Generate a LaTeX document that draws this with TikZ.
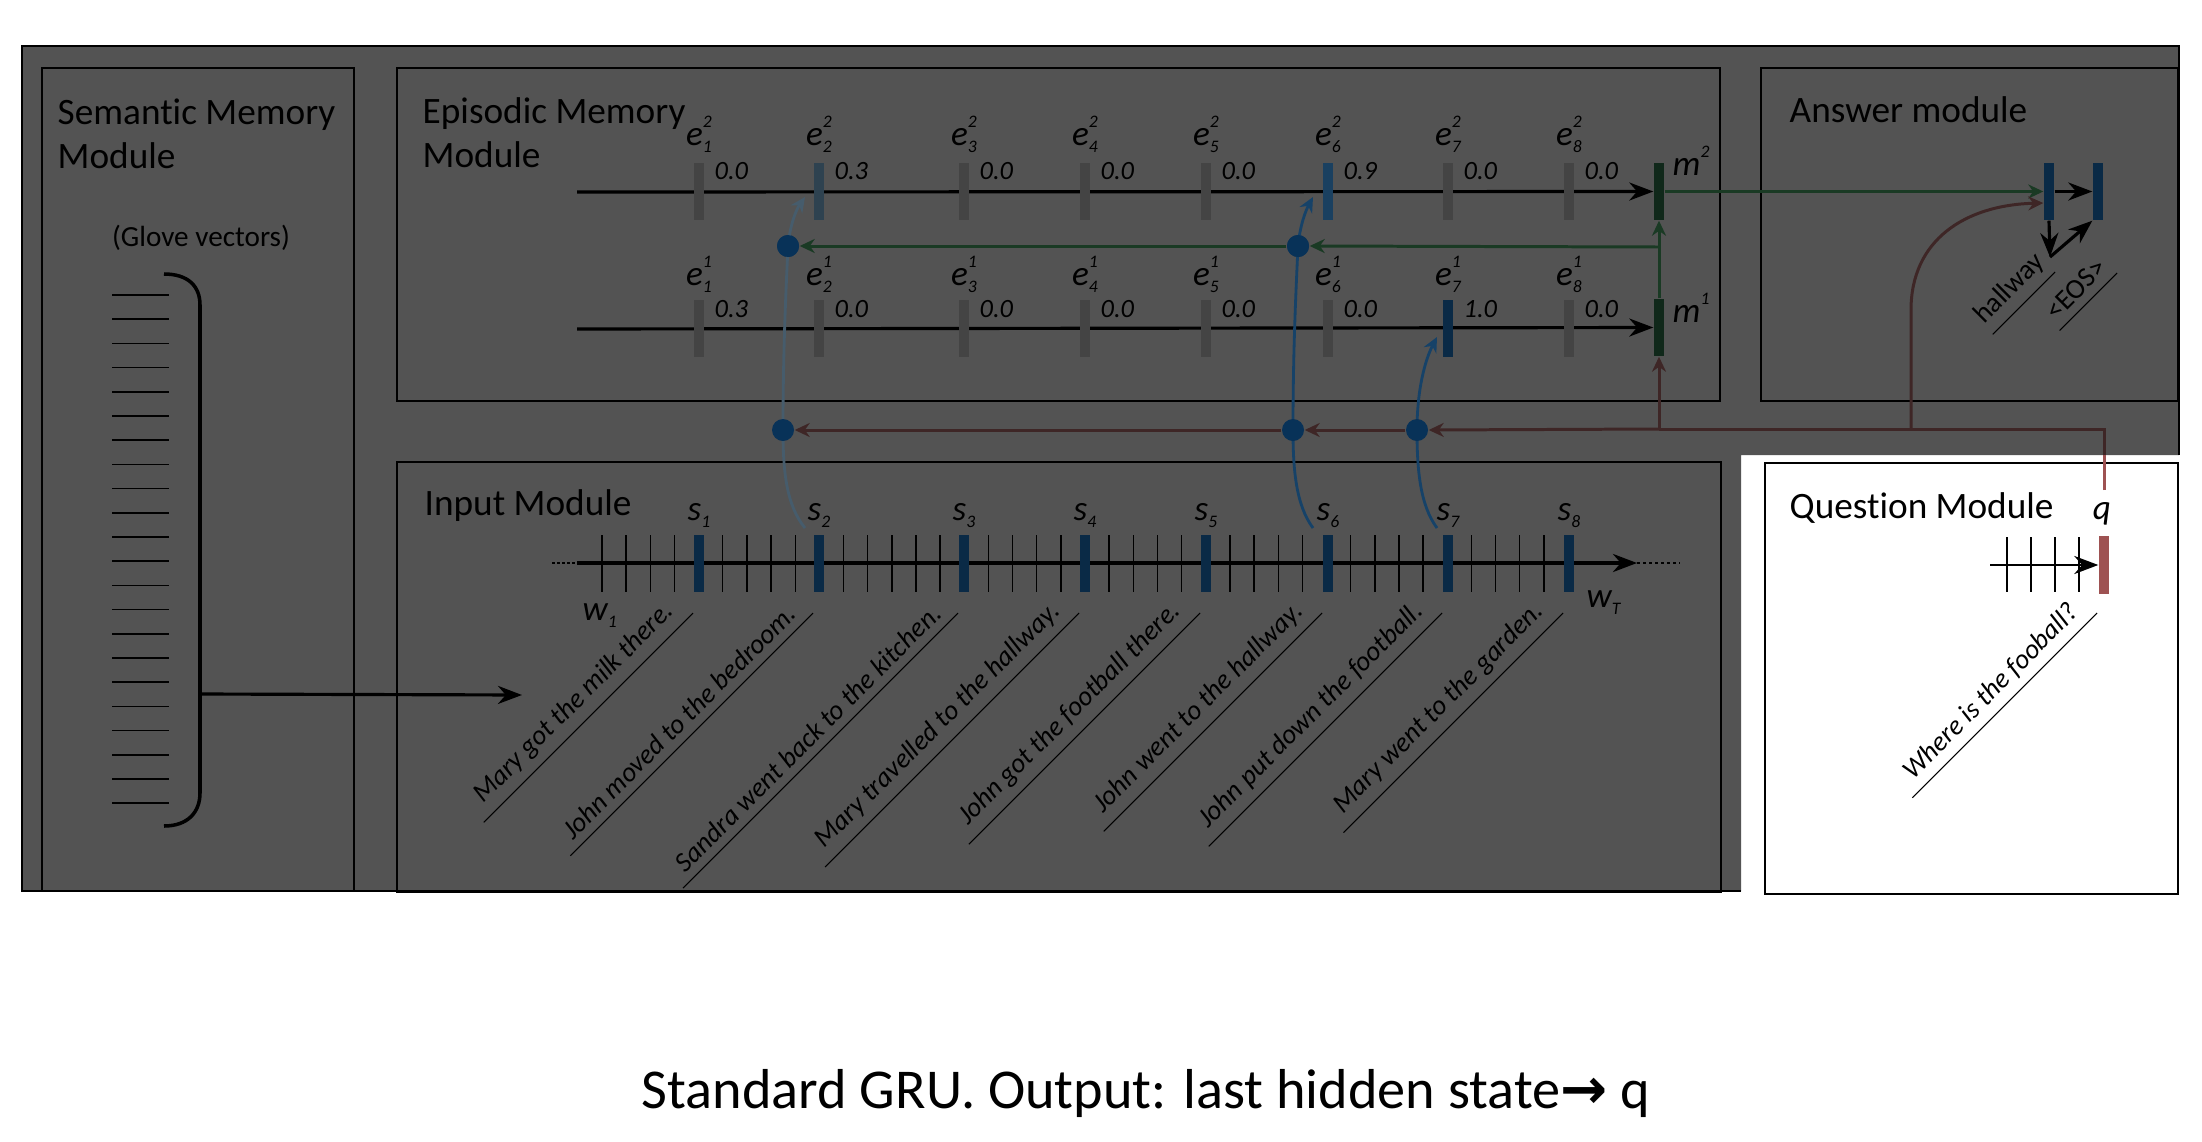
\documentclass[tikz,border=0pt]{standalone}
\usepackage{fontspec}
\setmainfont{Carlito}[Ligatures=NoCommon]
\newfontfamily\arrowfont{DejaVu Sans}
\usetikzlibrary{arrows.meta}
\definecolor{panel}{RGB}{83,83,83}
\definecolor{ebarg}{RGB}{68,68,68}
\definecolor{ebarbg}{RGB}{46,66,80}
\definecolor{ebarb}{RGB}{26,64,96}
\definecolor{sbar}{RGB}{10,42,70}
\definecolor{mbar}{RGB}{16,40,26}
\definecolor{grnline}{RGB}{26,58,36}
\definecolor{redline}{RGB}{62,38,38}
\definecolor{qbar}{RGB}{158,82,82}
\definecolor{curveb}{RGB}{22,66,104}
\definecolor{curveg}{RGB}{70,92,108}
\definecolor{dotc}{RGB}{8,50,88}
\newcommand{\scripts}[2]{\rlap{\raisebox{1.05ex}{\tiny\itshape #1}}\raisebox{-0.45ex}{\tiny\itshape #2}}
\newcommand{\membar}[3]{\node at (#1) (#2) [bar, fill=#3] {};}
\newcommand{\memdot}[2]{\node at (#1) (#2) [dot] {};}
\newcommand{\arcflow}[6]{\draw [#1, line width=0.8pt, arr] (#2) .. controls #3 .. (#4.center) .. controls #5 .. (#6);}

\begin{document}
\begin{tikzpicture}[x=0.01cm, y=-0.01cm,
  bar/.style={rectangle, inner sep=0pt, minimum width=0.1cm, minimum height=0.57cm},
  dot/.style={circle, fill=dotc, inner sep=0pt, minimum size=0.22cm},
  box/.style={draw=black, line width=0.6pt},
  lbl/.style={inner sep=0pt, font=\fontsize{10}{12}\selectfont\itshape},
  val/.style={inner sep=0pt, anchor=base west, font=\fontsize{7.5}{8}\selectfont\itshape},
  title/.style={inner sep=0pt, anchor=base west, font=\fontsize{10.6}{12.6}\selectfont},
  sent/.style={inner xsep=0.12cm, inner ysep=2.2pt, rotate=45, anchor=south east, font=\fontsize{7.8}{9}\selectfont\itshape},
  ul/.style={line width=0.3pt},
  tick/.style={line width=0.4pt},
  arr/.style={-{Stealth[length=0.15cm, width=0.14cm]}},
  bigarr/.style={-{Stealth[length=0.24cm, width=0.18cm]}},
  grn/.style={draw=grnline, line width=0.85pt},
  rd/.style={draw=redline, line width=0.85pt}]

\useasboundingbox (0,0) rectangle (2202,1142);

\fill [panel] (22,46) -- (2179,46) -- (2179,455) -- (1741,455) -- (1741,891) -- (22,891) -- cycle;
\draw [line width=0.6pt] (1741,891) -- (22,891) -- (22,46) -- (2179,46) -- (2179,455);

\draw [box] (42,68) rectangle (354,891);
\draw [box] (397,68) rectangle (1720,401);
\draw [box] (1761,68) rectangle (2178,401);
\draw [box] (397,462) rectangle (1721,892);
\draw [box, fill=white] (1765,463) rectangle (2178,894);

\node [title, align=left, anchor=north west] (semtitle) at (57,98) {Semantic Memory\\Module};
\node [title, align=left, anchor=north west] (epititle) at (422,97) {Episodic Memory\\Module};
\node [title] (anstitle) at (1789,122) {Answer module};
\node [title] (inptitle) at (424,515) {Input Module};
\node [title] (questitle) at (1789,518) {Question Module};
\node [inner sep=0pt, font=\fontsize{8.3}{10}\selectfont] (glove) at (201,238) {(Glove vectors)};

\foreach \i in {0,...,21}
  \draw [line width=0.5pt] (112,295+24.2*\i) -- (169,295+24.2*\i);
\draw [line width=1pt] (164,274) .. controls (188,274) and (200,286) .. (200,305) -- (200,793) .. controls (200,812) and (188,826) .. (164,826);
\coordinate (gloveout) at (200,694);
\coordinate (gloveend) at (522,695);
\draw [line width=0.9pt, bigarr] (gloveout) -- (gloveend);

\coordinate (wstart) at (577,563);
\coordinate (wend) at (1637,563);
\draw [line width=0.4pt, dash pattern=on 0.025cm off 0.025cm] (552,563) -- (wstart);
\draw [line width=1pt, bigarr] (wstart) -- (wend);
\draw [line width=0.5pt, dash pattern=on 0.03cm off 0.03cm] (wend) -- (1680,563);
\foreach \k in {0,...,40}
  \draw [tick] (602+24.15*\k,535) -- (602+24.15*\k,592);
\foreach \x [count=\i] in {699,819,964,1085,1206,1328,1448,1569} {
  \membar{\x,563.5}{s\i}{sbar}
  \node [lbl, anchor=base] (slbl\i) at (\x,520) {s\scripts{}{\i}};
}
\node [lbl, anchor=base west] (wfirst) at (582,620) {w\scripts{}{1}};
\node [lbl, anchor=base west] (wlast) at (1586,607) {w\scripts{}{T}};

\foreach \x/\t [count=\i] in {699/Mary got the milk there., 819/John moved to the bedroom., 964/Sandra went back to the kitchen., 1085/Mary travelled to the hallway., 1206/John got the football there., 1328/John went to the hallway., 1448/John put down the football., 1569/Mary went to the garden.} {
  \node [sent] (sen\i) at (\x-6,613) {\t};
  \draw [ul] (sen\i.south west) -- (sen\i.south east);
}

\membar{1659,191.5}{m2}{mbar}
\membar{1659,327.5}{m1}{mbar}
\node [lbl, anchor=base west] (m2lbl) at (1672,175) {m\scripts{2}{}};
\node [lbl, anchor=base west] (m1lbl) at (1672,322) {m\scripts{1}{}};
\draw [line width=0.9pt, bigarr] (577,192) -- (m2.west);
\draw [line width=0.9pt, bigarr] (577,329) -- (m1.west);

\foreach \x/\c/\v [count=\i] in {699/ebarg/0.0, 819/ebarbg/0.3, 964/ebarg/0.0, 1085/ebarg/0.0, 1206/ebarg/0.0, 1328/ebarb/0.9, 1448/ebarg/0.0, 1569/ebarg/0.0} {
  \membar{\x,191.5}{etwo\i}{\c}
  \node [lbl, anchor=base] (etwolbl\i) at (\x,145) {e\scripts{2}{\i}};
  \node [val] (etwoval\i) at (\x+15,179) {\v};
}
\foreach \x/\c/\v [count=\i] in {699/ebarg/0.3, 819/ebarg/0.0, 964/ebarg/0.0, 1085/ebarg/0.0, 1206/ebarg/0.0, 1328/ebarg/0.0, 1448/sbar/1.0, 1569/ebarg/0.0} {
  \membar{\x,328.5}{eone\i}{\c}
  \node [lbl, anchor=base] (eonelbl\i) at (\x,285) {e\scripts{1}{\i}};
  \node [val] (eoneval\i) at (\x+15,317) {\v};
}

\coordinate (ctwoin) at (805,528);
\coordinate (ctwoout) at (805,197);
\coordinate (csixin) at (1313,528);
\coordinate (csixout) at (1313,197);
\coordinate (csevenin) at (1437,528);
\coordinate (csevenout) at (1437,337);
\memdot{788,246}{dtwo}
\memdot{1298,246}{dsix}
\draw [curveg, line width=0.8pt] (ctwoin) .. controls (786,505) and (783,470) .. (783,430);
\arcflow{curveg}{783,430}{(783,350) and (786,290)}{dtwo}{(790,225) and (796,210)}{ctwoout}
\draw [curveb, line width=0.8pt] (csixin) .. controls (1296,505) and (1293,470) .. (1293,430);
\arcflow{curveb}{1293,430}{(1293,350) and (1296,290)}{dsix}{(1300,225) and (1306,210)}{csixout}
\draw [curveb, line width=0.8pt, arr] (csevenin) .. controls (1420,505) and (1417,470) .. (1417,430) .. controls (1417,390) and (1425,360) .. (csevenout);

\memdot{788,246}{dtwo}
\memdot{1298,246}{dsix}
\memdot{783,430}{dtwob}
\memdot{1293,430}{dsixb}
\memdot{1417,430}{dsevenb}

\coordinate (gjoin) at (1659,247);
\draw [grn, arr] (m1.north) -- (m2.south);
\draw [grn, arr] (gjoin) -- (dsix.east);
\draw [grn, arr] (dsix.west) -- (dtwo.east);

\membar{2049,191.5}{ans1}{sbar}
\membar{2098,191.5}{ans2}{sbar}
\draw [grn, arr] (m2.east) -- (ans1.west);
\draw [line width=0.9pt, bigarr] (ans1.east) -- (ans2.west);
\coordinate (hwpt) at (2050,257);
\draw [line width=0.9pt, bigarr] (ans1.south) -- (hwpt);
\draw [line width=0.9pt, bigarr] (hwpt) -- (ans2.south west);
\node [sent, font=\fontsize{8}{9}\selectfont, inner xsep=0pt] (hwlbl) at (2055,272) {hallway};
\draw [ul] (hwlbl.south west) -- (hwlbl.south east);
\node [sent, font=\fontsize{8}{9}\selectfont, inner xsep=1pt] (eoslbl) at (2117,273) {<EOS>};
\draw [ul] (eoslbl.south west) -- (eoslbl.south east);

\membar{2104,565}{qb}{qbar}
\foreach \x in {2007,2031,2055,2079}
  \draw [tick] (\x,537) -- (\x,592);
\coordinate (qstart) at (1990,565);
\draw [line width=0.8pt, bigarr] (qstart) -- (qb.west);
\node [lbl, anchor=base] (qlbl) at (2102,519) {q};
\node [sent] (qsen) at (2097,613) {Where is the fooball?};
\draw [ul] (qsen.south west) -- (qsen.south east);

\coordinate (qtop) at (2104,490);
\coordinate (qedge) at (2104,455);
\coordinate (rcorner) at (2104,429);
\coordinate (rsplit) at (1911,429);
\coordinate (mjoin) at (1659,429);
\draw [draw=qbar, line width=0.85pt] (qtop) -- (qedge);
\draw [rd] (qedge) -- (rcorner) -- (mjoin);
\draw [rd, arr] (mjoin) -- (m1.south);
\draw [rd, arr] (mjoin) -- (dsevenb.east);
\draw [rd, arr] (dsevenb.west) -- (dsixb.east);
\draw [rd, arr] (dsixb.west) -- (dtwob.east);
\draw [rd, arr] (rsplit) -- (1911,310) .. controls (1911,240) and (1965,205) .. ([yshift=-0.115cm]ans1.west);

\node [inner sep=0pt, anchor=base, font=\fontsize{16}{19}\selectfont] (caption) at (1146,1108) {Standard GRU. Output: last hidden state{\arrowfont\bfseries →} q};

\end{tikzpicture}
\end{document}
